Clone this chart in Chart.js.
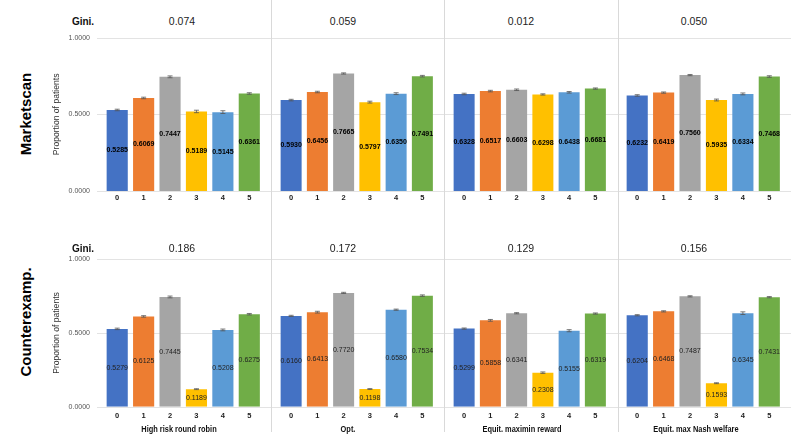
<!DOCTYPE html>
<html>
<head>
<meta charset="utf-8">
<script src="https://cdn.jsdelivr.net/npm/chart.js@4.4.0/dist/chart.umd.min.js"></script>
<style>
    body { margin: 0; background: #fff; font-family: "Liberation Sans", Arial, sans-serif; }
    #wrap { position: relative; width: 800px; height: 443px; overflow: hidden; background: #fff; }
    .panel { position: absolute; }
    .sep { position: absolute; top: 0; width: 1px; height: 432px; background: #d9d9d9; z-index: 2; }
    .txt { position: absolute; white-space: nowrap; transform: translate(-50%, -50%); color: #111; z-index: 3; }
    .gini-head { font-size: 10px; font-weight: bold; }
    .gini-val { font-size: 10.5px; color: #222; }
    .row-name { font-size: 15px; font-weight: bold; transform: translate(-50%, -50%) rotate(-90deg); color: #000; }
    .method { font-size: 9.5px; font-weight: bold; color: #111; transform: translate(-50%, -50%) scaleX(0.78); }
</style>
</head>
<body>
<div id="wrap"></div>
<script>
// categories and labels
const categories = ["0", "1", "2", "3", "4", "5"];
const methods = ["High risk round robin", "Opt.", "Equit. maximin reward", "Equit. max Nash welfare"];
const rowNames = ["Marketscan", "Counterexamp."];
const giniMarketscan = ["0.074", "0.059", "0.012", "0.050"];
const giniCounterexamp = ["0.186", "0.172", "0.129", "0.156"];
const yTicks = [0, 0.5, 1];

// proportion of patients, one list per method
const marketscanValues = [
    [0.5285, 0.6069, 0.7447, 0.5189, 0.5145, 0.6361],
    [0.5930, 0.6456, 0.7665, 0.5797, 0.6350, 0.7491],
    [0.6328, 0.6517, 0.6603, 0.6298, 0.6438, 0.6681],
    [0.6232, 0.6419, 0.7560, 0.5935, 0.6334, 0.7468]
];
const counterexampValues = [
    [0.5279, 0.6125, 0.7445, 0.1189, 0.5208, 0.6275],
    [0.6160, 0.6413, 0.7720, 0.1198, 0.6580, 0.7534],
    [0.5299, 0.5858, 0.6341, 0.2308, 0.5155, 0.6319],
    [0.6204, 0.6468, 0.7487, 0.1593, 0.6345, 0.7431]
];
// error bar half widths (estimated)
const marketscanErrors = [
    [0.005, 0.005, 0.006, 0.008, 0.009, 0.005],
    [0.005, 0.005, 0.004, 0.006, 0.006, 0.005],
    [0.005, 0.005, 0.005, 0.004, 0.005, 0.004],
    [0.005, 0.004, 0.004, 0.006, 0.006, 0.005]
];
const counterexampErrors = [
    [0.005, 0.005, 0.006, 0.003, 0.006, 0.005],
    [0.004, 0.006, 0.004, 0.003, 0.004, 0.005],
    [0.004, 0.006, 0.004, 0.005, 0.007, 0.004],
    [0.004, 0.004, 0.004, 0.003, 0.009, 0.004]
];

const barColors = ["#4472C4", "#ED7D31", "#A5A5A5", "#FFC000", "#5B9BD5", "#70AD47"];

document.addEventListener("DOMContentLoaded", function () {
    const wrap = document.getElementById("wrap");

    // panel edges (separators) and row geometry
    const edges = [97, 271, 444, 617, 791];
    const padL = 7;
    const padR = 8.5;
    const rowsLayout = [
        { top: 28, height: 182, padTop: 9.7, axisH: 19, tickPad: 2, labelColor: "#000", labelWeight: "bold", giniY: 21 },
        { top: 250, height: 182, padTop: 9.3, axisH: 25.3, tickPad: 5, labelColor: "#222", labelWeight: "normal", giniY: 248 }
    ];
    const giniX = [182, 343, 521, 694];
    const methodX = [179, 348, 522, 696];

    // grid lines drawn across the whole panel, wider than the bar area
    const gridPlugin = {
        id: "panelGrid",
        beforeDatasetsDraw(chart) {
            const ctx = chart.ctx;
            const y = chart.scales.y;
            const area = chart.chartArea;
            ctx.save();
            ctx.strokeStyle = "#e3e3e3";
            ctx.lineWidth = 1;
            yTicks.forEach(function (t) {
                const py = Math.round(y.getPixelForValue(t)) + 0.5;
                ctx.beginPath();
                ctx.moveTo(area.left - padL, py);
                ctx.lineTo(area.right + padR, py);
                ctx.stroke();
            });
            ctx.restore();
        }
    };

    // value labels inside bars and error bars on top
    const valuePlugin = {
        id: "valueLabels",
        afterDatasetsDraw(chart) {
            const ctx = chart.ctx;
            const opts = chart.options.plugins.valueLabels;
            const y = chart.scales.y;
            const meta = chart.getDatasetMeta(0);
            const values = chart.data.datasets[0].data;
            ctx.save();
            meta.data.forEach(function (bar, j) {
                const v = values[j];
                const e = opts.errors[j];
                const top = y.getPixelForValue(v + e);
                const bot = y.getPixelForValue(v - e);
                ctx.strokeStyle = "#555";
                ctx.lineWidth = 0.8;
                ctx.beginPath();
                ctx.moveTo(bar.x, top);
                ctx.lineTo(bar.x, bot);
                ctx.moveTo(bar.x - 2.5, top);
                ctx.lineTo(bar.x + 2.5, top);
                ctx.moveTo(bar.x - 2.5, bot);
                ctx.lineTo(bar.x + 2.5, bot);
                ctx.stroke();

                ctx.fillStyle = opts.color;
                ctx.font = opts.weight + " 7px 'Liberation Sans', Arial, sans-serif";
                ctx.textAlign = "center";
                ctx.textBaseline = "middle";
                ctx.fillText(v.toFixed(4), bar.x, (bar.y + bar.base) / 2);
            });
            ctx.restore();
        }
    };

    function addText(cls, text, x, y) {
        const d = document.createElement("div");
        d.className = "txt " + cls;
        d.style.left = x + "px";
        d.style.top = y + "px";
        d.textContent = text;
        wrap.appendChild(d);
    }

    function makePanel(rowIdx, i, values, errors) {
        const lay = rowsLayout[rowIdx];
        const first = i === 0;
        const left = first ? 40 : edges[i];
        const width = edges[i + 1] - left;

        const div = document.createElement("div");
        div.className = "panel";
        div.style.left = left + "px";
        div.style.top = lay.top + "px";
        div.style.width = width + "px";
        div.style.height = lay.height + "px";
        const canvas = document.createElement("canvas");
        div.appendChild(canvas);
        wrap.appendChild(div);

        new Chart(canvas.getContext("2d"), {
            type: "bar",
            data: {
                labels: categories,
                datasets: [{
                    data: values,
                    backgroundColor: barColors,
                    borderWidth: 0,
                    categoryPercentage: 1,
                    barPercentage: 0.8
                }]
            },
            options: {
                responsive: true,
                maintainAspectRatio: false,
                animation: false,
                events: [],
                layout: {
                    padding: { left: first ? 0 : padL, right: padR, top: lay.padTop, bottom: 0 }
                },
                plugins: {
                    legend: { display: false },
                    tooltip: { enabled: false },
                    valueLabels: { errors: errors, color: lay.labelColor, weight: lay.labelWeight }
                },
                scales: {
                    x: {
                        grid: { display: false, drawTicks: false, tickLength: 0 },
                        border: { display: false },
                        ticks: {
                            color: "#222",
                            padding: lay.tickPad,
                            maxRotation: 0,
                            font: { size: 7.5, weight: "bold", family: "'Liberation Sans', Arial, sans-serif" }
                        },
                        afterFit: function (scale) {
                            scale.height = lay.axisH;
                            scale.paddingLeft = 0;
                            scale.paddingRight = 0;
                        }
                    },
                    y: {
                        display: first,
                        min: 0,
                        max: 1,
                        grid: { display: false, drawTicks: false, tickLength: 0 },
                        border: { display: false },
                        afterBuildTicks: function (scale) {
                            scale.ticks = yTicks.map(function (t) { return { value: t }; });
                        },
                        ticks: {
                            color: "#555",
                            padding: 14,
                            font: { size: 7, family: "'Liberation Sans', Arial, sans-serif" },
                            callback: function (v) { return Number(v).toFixed(4); }
                        },
                        title: {
                            display: true,
                            text: "Proportion of patients",
                            color: "#333",
                            padding: { top: 11, bottom: 0 },
                            font: { size: 8.6, family: "'Liberation Sans', Arial, sans-serif" }
                        },
                        afterFit: function (scale) {
                            scale.width = first ? 64 : 0;
                            scale.paddingTop = 0;
                            scale.paddingBottom = 0;
                        }
                    }
                }
            },
            plugins: [gridPlugin, valuePlugin]
        });
    }

    const allValues = [marketscanValues, counterexampValues];
    const allErrors = [marketscanErrors, counterexampErrors];
    const allGini = [giniMarketscan, giniCounterexamp];

    for (let r = 0; r < 2; r++) {
        for (let i = 0; i < 4; i++) {
            makePanel(r, i, allValues[r][i], allErrors[r][i]);
            addText("gini-val", allGini[r][i], giniX[i], rowsLayout[r].giniY);
        }
        addText("gini-head", "Gini.", 83, rowsLayout[r].giniY);
    }

    // separators between methods
    [270.5, 444, 617.5].forEach(function (x) {
        const s = document.createElement("div");
        s.className = "sep";
        s.style.left = x + "px";
        wrap.appendChild(s);
    });

    addText("row-name", rowNames[0], 25, 114);
    addText("row-name", rowNames[1], 25, 322);
    methods.forEach(function (m, i) {
        addText("method", m, methodX[i], 428);
    });
});
</script>
</body>
</html>
